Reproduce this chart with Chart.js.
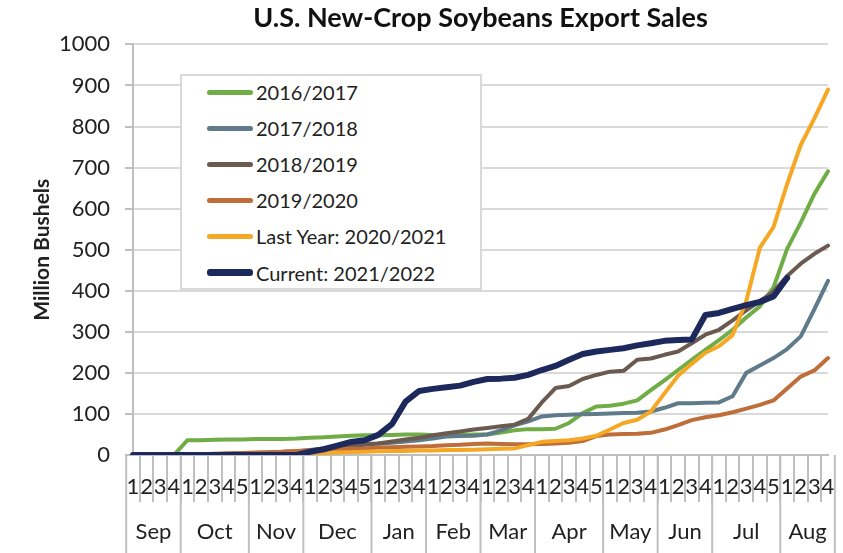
<!DOCTYPE html>
<html>
<head>
<meta charset="utf-8">
<title>U.S. New-Crop Soybeans Export Sales</title>
<script src="https://cdn.jsdelivr.net/npm/chart.js@4.4.1/dist/chart.umd.min.js"></script>
<style>
  html, body { margin: 0; padding: 0; background: #fff; overflow: hidden; }
  #wrap { position: relative; width: 843px; height: 553px; }
  #chart { display: block; }
  #legend {
    position: absolute; left: 180px; top: 74px; width: 298px; height: 212px;
    border: 2px solid #d9d9d9; background: #fff;
    font-family: Lato, sans-serif; font-size: 20px; color: #222;
  }
  .item { position: absolute; left: 25px; height: 26px; display: flex; align-items: center; white-space: nowrap; }
  .swatch { width: 46px; border-radius: 3px; margin-right: 3px; }
</style>
</head>
<body>
<div id="wrap">
  <canvas id="chart" width="843" height="553"></canvas>
  <div id="legend"></div>
</div>
<script>
/* ── categories: marketing-year weeks ── */
const MONTHS = ['Sep', 'Oct', 'Nov', 'Dec', 'Jan', 'Feb', 'Mar', 'Apr', 'May', 'Jun', 'Jul', 'Aug'];
const WEEKS_IN_MONTH = [4, 5, 4, 5, 4, 4, 4, 5, 4, 4, 5, 4];
const WEEK_LABELS = MONTHS.flatMap((m, i) =>
  Array.from({ length: WEEKS_IN_MONTH[i] }, (_, w) => String(w + 1)));

const Y_TICKS = { min: 0, max: 1000, step: 100 };

/* ── series (million bushels, cumulative) ── */
const MY_2016 = [
  0, 0, 0, 0,
  36, 36, 37, 38, 38,
  39, 39, 39, 40,
  42, 43, 45, 47, 48,
  48, 49, 50, 50,
  49, 48, 49, 50,
  50, 55, 60, 63,
  63, 64, 78, 102, 118,
  120, 125, 133, 158,
  182, 207, 232, 256,
  280, 305, 335, 362, 408,
  502, 566, 636, 691
];
const MY_2017 = [
  0, 0, 0, 0,
  0, 0, 0, 0, 1,
  2, 2, 3, 4,
  8, 15, 22, 25, 27,
  28, 30, 33, 36,
  40, 45, 46, 47,
  50, 60, 72, 82,
  94, 97, 98, 99, 100,
  101, 102, 103, 106,
  115, 126, 126, 127,
  128, 143, 200, 218, 236,
  258, 289, 355, 424
];
const MY_2018 = [
  0, 0, 0, 0,
  0, 1, 2, 3, 4,
  5, 6, 8, 9,
  12, 16, 20, 22, 25,
  28, 33, 38, 42,
  48, 53, 57, 62,
  66, 70, 74, 88,
  128, 163, 168, 185, 195,
  203, 205, 232, 235,
  244, 252, 272, 293,
  305, 328, 352, 375, 398,
  436, 466, 490, 510
];
const MY_2019 = [
  0, 0, 0, 0,
  1, 2, 3, 4, 5,
  6, 7, 8, 10,
  11, 12, 14, 15, 16,
  18, 19, 20, 21,
  22, 24, 25, 27,
  28, 27, 26, 26,
  27, 28, 30, 34, 46,
  50, 51, 52, 54,
  62, 73, 85, 92,
  97, 104, 113, 122, 133,
  162, 191, 206, 236
];
const MY_2020 = [
  0, 0, 0, 0,
  0, 0, 0, 0, 0,
  0, 1, 2, 3,
  4, 5, 6, 7, 8,
  9, 10, 10, 11,
  11, 12, 12, 13,
  14, 15, 16, 24,
  32, 34, 36, 40, 47,
  62, 78, 86, 106,
  150, 193, 222, 249,
  265, 292, 375, 505, 555,
  660, 755, 820, 890
];
const MY_2021 = [
  0, 0, 0, 0,
  0, 0, 0, 0, 0,
  0, 0, 0, 0,
  8, 14, 23, 32, 36,
  49, 75, 130, 156,
  161, 165, 169, 178,
  185, 186, 188, 195,
  207, 217, 232, 246, 252,
  256, 260, 267, 272,
  278, 280, 281, 341,
  346, 356, 365, 373, 386,
  431, null, null, null
];

const SERIES_NAMES  = ['2016/2017', '2017/2018', '2018/2019', '2019/2020', 'Last Year: 2020/2021', 'Current: 2021/2022'];
const SERIES_DATA   = [MY_2016, MY_2017, MY_2018, MY_2019, MY_2020, MY_2021];
const SERIES_COLORS = ['#70ad47', '#5f7b8a', '#6b5a4f', '#bf6e3a', '#f4a825', '#1d285c'];
const SERIES_WIDTH  = [4, 4, 4, 4, 4, 6];

const FONT = 'Lato';
const INK = '#222';

/* ── month row under the week numbers ── */
const monthAxis = {
  id: 'monthAxis',
  afterDraw(chart) {
    const x = chart.scales.x, ctx = chart.ctx;
    const half = (x.getPixelForValue(1) - x.getPixelForValue(0)) / 2;
    const top = chart.chartArea.bottom, bottom = chart.height;
    ctx.save();
    ctx.strokeStyle = '#bfbfbf';
    ctx.lineWidth = 2;
    ctx.font = `22px ${FONT}`;
    ctx.fillStyle = INK;
    ctx.textAlign = 'center';
    ctx.textBaseline = 'middle';
    let start = 0;
    MONTHS.forEach((m, i) => {
      const left = x.getPixelForValue(start) - half;
      const right = x.getPixelForValue(start + WEEKS_IN_MONTH[i] - 1) + half;
      ctx.beginPath(); ctx.moveTo(left, top); ctx.lineTo(left, bottom); ctx.stroke();
      if (i === MONTHS.length - 1) {
        ctx.beginPath(); ctx.moveTo(right, top); ctx.lineTo(right, bottom); ctx.stroke();
      }
      ctx.fillText(m, (left + right) / 2, top + 77);
      start += WEEKS_IN_MONTH[i];
    });
    ctx.restore();
  }
};

new Chart(document.getElementById('chart'), {
  type: 'line',
  data: {
    labels: WEEK_LABELS,
    datasets: SERIES_DATA.map((d, i) => ({
      label: SERIES_NAMES[i],
      data: d,
      borderColor: SERIES_COLORS[i],
      backgroundColor: SERIES_COLORS[i],
      borderWidth: SERIES_WIDTH[i],
      borderJoinStyle: 'round',
      borderCapStyle: 'round',
      pointRadius: 0,
      tension: 0,
      order: SERIES_DATA.length - 1 - i,
    }))
  },
  options: {
    responsive: false,
    animation: false,
    events: [],
    layout: { padding: { left: 0, right: 15, top: 0, bottom: 0 } },
    plugins: {
      legend: { display: false },
      tooltip: { enabled: false },
      title: {
        display: true,
        fullSize: false,
        text: 'U.S. New-Crop Soybeans Export Sales',
        color: '#111',
        font: { family: FONT, size: 27, weight: 'bold' },
        padding: { top: 2, bottom: 10 }
      }
    },
    scales: {
      x: {
        grid: {
          offset: true, drawOnChartArea: false, tickLength: 47,
          color: '#bfbfbf', lineWidth: 2
        },
        border: { color: '#bfbfbf', width: 2 },
        ticks: {
          autoSkip: false, maxRotation: 0, minRotation: 0,
          padding: -28, color: INK,
          font: { family: FONT, size: 22 }
        },
        afterFit: s => { s.height = 98; }
      },
      y: {
        min: Y_TICKS.min, max: Y_TICKS.max,
        grid: { color: '#d9d9d9', lineWidth: 2, tickLength: 8, tickColor: '#bfbfbf' },
        border: { color: '#bfbfbf', width: 2 },
        ticks: {
          stepSize: Y_TICKS.step, padding: 15, color: INK,
          font: { family: FONT, size: 22 },
          callback: v => String(v)
        },
        title: {
          display: true, text: 'Million Bushels', color: INK,
          font: { family: FONT, size: 21, weight: 'bold' },
          padding: { top: 30, bottom: 0 }
        },
        afterFit: s => { s.width = 133; }
      }
    }
  },
  plugins: [monthAxis]
});

/* ── legend box inside the plot ── */
const legend = document.getElementById('legend');
SERIES_NAMES.forEach((name, i) => {
  const row = document.createElement('div');
  row.className = 'item';
  row.style.top = (3 + 36.1 * i) + 'px';
  const sw = document.createElement('span');
  sw.className = 'swatch';
  sw.style.height = (SERIES_WIDTH[i] + 1) + 'px';
  sw.style.background = SERIES_COLORS[i];
  row.appendChild(sw);
  row.appendChild(document.createTextNode(name));
  legend.appendChild(row);
});
</script>
</body>
</html>
